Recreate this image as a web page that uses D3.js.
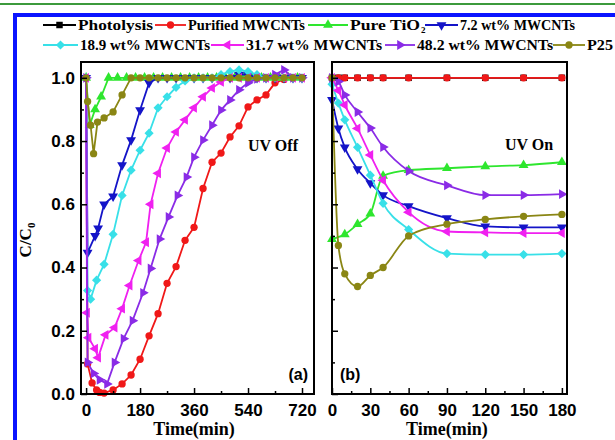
<!DOCTYPE html>
<html>
<head>
<meta charset="utf-8">
<script src="https://cdn.jsdelivr.net/npm/d3@7"></script>
<style>
  body { margin: 0; background: #fff; }
  svg { display: block; }
  .tick text { font-family: "Liberation Sans", Arial, sans-serif; font-weight: bold; font-size: 17px; fill: #000; }
  .tick line { stroke: #000; stroke-width: 1.5; }
  .serif { font-family: "Liberation Serif", "Times New Roman", serif; font-weight: bold; fill: #000; }
  .sans { font-family: "Liberation Sans", Arial, sans-serif; font-weight: bold; fill: #000; }
</style>
</head>
<body>
<svg id="chart" width="615" height="440"></svg>
<script>
// ---- data: [time (min), C/C0] ----
const seriesNames = ["Photolysis", "Purified MWCNTs", "Pure TiO", "7.2 wt% MWCNTs",
                     "18.9 wt% MWCNTs", "31.7 wt% MWCNTs", "48.2 wt% MWCNTs", "P25"];

// (a) UV off
const offPhotolysis = [];
const offPurified = [[0,1.0],[5,0.095],[20,0.035],[35,0.013],[45,0.005],[60,0.003],[90,0.013],
  [120,0.032],[150,0.06],[180,0.11],[210,0.184],[240,0.254],[270,0.35],[300,0.403],[330,0.486],
  [360,0.527],[390,0.65],[420,0.733],[450,0.762],[480,0.813],[510,0.848],[540,0.908],[570,0.93],
  [600,0.946],[630,0.984],[660,0.995],[690,1.0],[720,1.0]];
const offTiO2 = [[0,1.0],[12,0.85],[30,0.9],[50,0.94],[75,1.0],[105,1.0],[135,1.0],[165,1.0],
  [195,1.0],[225,1.0],[255,1.0],[285,1.0],[315,1.0],[345,1.0],[375,1.0],[405,1.0],[435,1.0],
  [465,1.0],[495,1.0],[525,1.0],[555,1.0],[585,1.0],[615,1.0],[645,1.0],[675,1.0],[705,1.0]];
const offMw72 = [[0,1.0],[5,0.447],[30,0.5],[40,0.524],[60,0.6],[90,0.625],[120,0.724],
  [150,0.803],[180,0.898],[210,0.984],[240,1.0],[270,1.0],[300,1.0],[330,1.0],[360,1.0],
  [390,1.0],[420,1.0],[450,1.0],[480,1.0],[510,1.01],[540,1.01],[570,1.0],[600,1.0],[630,1.0],
  [660,1.0],[690,1.0],[720,1.0]];
const offMw189 = [[0,1.0],[5,0.327],[15,0.3],[35,0.36],[60,0.41],[90,0.505],[120,0.628],
  [150,0.708],[180,0.771],[210,0.825],[240,0.905],[270,0.94],[300,0.97],[330,0.99],[360,1.0],
  [390,1.0],[420,1.0],[450,1.01],[480,1.02],[510,1.025],[540,1.02],[570,1.01],[600,1.0],
  [630,1.0],[660,1.0],[690,1.0],[720,1.0]];
const offMw317 = [[0,1.0],[3,0.257],[8,0.178],[30,0.143],[40,0.115],[65,0.187],[95,0.21],
  [120,0.27],[145,0.343],[175,0.422],[200,0.48],[215,0.6],[240,0.698],[270,0.778],[300,0.829],
  [330,0.867],[360,0.905],[390,0.94],[420,0.968],[450,0.987],[480,1.0],[510,1.0],[540,1.0],
  [570,1.0],[600,1.0],[630,1.0],[660,1.0],[690,1.0],[720,1.0]];
const offMw482 = [[0,1.0],[5,0.1],[25,0.065],[45,0.045],[70,0.032],[95,0.1],[125,0.175],
  [155,0.232],[190,0.32],[215,0.397],[245,0.49],[275,0.56],[305,0.628],[335,0.686],[360,0.749],
  [390,0.803],[420,0.85],[450,0.898],[480,0.93],[510,0.962],[540,0.984],[570,0.997],[600,1.0],
  [630,1.01],[660,1.025],[690,1.0],[720,1.0]];
const offP25 = [[0,1.0],[5,0.925],[15,0.85],[25,0.76],[38,0.86],[60,0.873],[90,0.892],
  [120,0.946],[150,1.0],[180,1.0],[210,1.0],[240,1.0],[270,1.0],[300,1.0],[330,1.0],[360,1.0],
  [390,1.0],[420,1.0],[450,1.0],[480,1.0],[510,1.0],[540,1.0],[570,1.0],[600,1.0],[630,1.0],
  [660,1.0],[690,1.0],[720,1.0]];

// (b) UV on
const onPhotolysis = [[0,1],[5,1],[10,1],[20,1],[30,1],[40,1],[60,1],[90,1],[120,1],[150,1],[180,1]];
const onPurified = [[0,1],[5,1],[10,1],[20,1],[30,1],[40,1],[60,1],[90,1],[120,1],[150,1],[180,1]];
const onTiO2 = [[0,0.49],[10,0.505],[20,0.537],[30,0.57],[40,0.69],[60,0.708],[90,0.714],
  [120,0.72],[150,0.724],[180,0.733]];
const onMw72 = [[0,0.93],[5,0.84],[10,0.78],[20,0.711],[30,0.667],[40,0.629],[60,0.594],
  [90,0.556],[120,0.53],[150,0.527],[180,0.527]];
const onMw189 = [[0,0.98],[5,0.92],[10,0.867],[20,0.78],[30,0.692],[40,0.603],[60,0.52],
  [90,0.444],[120,0.441],[150,0.441],[180,0.444]];
const onMw317 = [[0,1.0],[5,0.96],[10,0.914],[20,0.84],[30,0.756],[40,0.676],[60,0.575],
  [90,0.514],[120,0.511],[150,0.509],[180,0.509]];
const onMw482 = [[0,1.0],[5,0.988],[10,0.946],[20,0.892],[30,0.841],[40,0.781],[60,0.705],
  [90,0.66],[120,0.629],[150,0.629],[180,0.632]];
const onP25 = [[0,1.0],[5,0.47],[10,0.38],[20,0.34],[30,0.375],[40,0.4],[60,0.5],[90,0.537],
  [120,0.552],[150,0.562],[180,0.568]];

// tick values
const yMajor = [0, 0.2, 0.4, 0.6, 0.8, 1.0];
const yMinor = [0.1, 0.3, 0.5, 0.7, 0.9];
const xMajorA = [0, 180, 360, 540, 720];
const xMinorA = [90, 270, 450, 630];
const xMajorB = [0, 30, 60, 90, 120, 150, 180];
const xMinorB = [15, 45, 75, 105, 135, 165];

// ---- styles ----
const colors = ["#000000", "#f01818", "#2ee62e", "#1414c8", "#38e0e8", "#f020f0", "#8a2be6", "#8a8614"];
const shapes = [
  [d3.symbolSquare, 0], [d3.symbolCircle, 0], [d3.symbolTriangle, 0], [d3.symbolTriangle, 180],
  [d3.symbolSquare, 45], [d3.symbolTriangle, -90], [d3.symbolTriangle, 90], [d3.symbolCircle, 0]
];
const markerSize = 42;

const svg = d3.select("#chart");

// page decoration (green rule + blue frame)
svg.append("rect").attr("x", 0).attr("y", 3).attr("width", 615).attr("height", 2).attr("fill", "#3c9a3c");
svg.append("path").attr("d", "M15,440V15H615").attr("fill", "none")
  .attr("stroke", "#0a14ff").attr("stroke-width", 4);

const y = d3.scaleLinear().domain([0, 1.05]).range([394, 62]);
const xA = d3.scaleLinear().domain([-17, 760]).range([81, 314]);
const xB = d3.scaleLinear().domain([0, 184]).range([332, 567]);

function drawSeries(g, x, data, i, curve) {
  if (!data.length) return;
  const line = d3.line().x(d => x(d[0])).y(d => y(d[1])).curve(curve);
  g.append("path").datum(data).attr("d", line)
    .attr("fill", "none").attr("stroke", colors[i]).attr("stroke-width", 1.8);
  g.selectAll(null).data(data).join("path")
    .attr("d", d3.symbol().type(shapes[i][0]).size(markerSize))
    .attr("transform", d => `translate(${x(d[0])},${y(d[1])}) rotate(${shapes[i][1]})`)
    .attr("fill", colors[i]);
}

function drawPanel(x, seriesList, curve, xMajor, xMinor, yLabels) {
  const g = svg.append("g");
  seriesList.forEach((s, i) => drawSeries(g, x, s, i, curve));

  const [x0, x1] = x.range();
  // minor ticks
  g.append("g").attr("transform", `translate(0,${y(0)})`)
    .call(d3.axisBottom(x).tickValues(xMinor).tickSize(-3).tickFormat(""))
    .call(a => a.select(".domain").remove());
  g.append("g").attr("transform", `translate(${x0},0)`)
    .call(d3.axisLeft(y).tickValues(yMinor).tickSize(-3).tickFormat(""))
    .call(a => a.select(".domain").remove());
  // major ticks
  g.append("g").attr("transform", `translate(0,${y(0)})`)
    .call(d3.axisBottom(x).tickValues(xMajor).tickSizeInner(-6).tickSizeOuter(0).tickPadding(10))
    .call(a => a.select(".domain").remove());
  g.append("g").attr("transform", `translate(${x0},0)`)
    .call(d3.axisLeft(y).tickValues(yMajor).tickSizeInner(-6).tickSizeOuter(0).tickPadding(6)
      .tickFormat(yLabels ? d3.format(".1f") : ""))
    .call(a => a.select(".domain").remove());
  // frame
  g.append("rect").attr("x", x0).attr("y", y.range()[1])
    .attr("width", x1 - x0).attr("height", y(0) - y.range()[1])
    .attr("fill", "none").attr("stroke", "#000").attr("stroke-width", 2);

  g.append("text").attr("class", "serif").attr("x", (x(xMajor[0]) + x(xMajor[xMajor.length - 1])) / 2)
    .attr("y", 435).attr("text-anchor", "middle").attr("font-size", 18).text("Time(min)");
  return g;
}

const gA = drawPanel(xA, [offPhotolysis, offPurified, offTiO2, offMw72, offMw189, offMw317, offMw482, offP25],
  d3.curveLinear, xMajorA, xMinorA, true);
const gB = drawPanel(xB, [onPhotolysis, onPurified, onTiO2, onMw72, onMw189, onMw317, onMw482, onP25],
  d3.curveMonotoneX, xMajorB, xMinorB, false);

gA.append("text").attr("class", "serif").attr("x", 273).attr("y", 151)
  .attr("text-anchor", "middle").attr("font-size", 16).text("UV Off");
gB.append("text").attr("class", "serif").attr("x", 529).attr("y", 150)
  .attr("text-anchor", "middle").attr("font-size", 16).text("UV On");
gA.append("text").attr("class", "sans").attr("x", 308).attr("y", 380)
  .attr("text-anchor", "end").attr("font-size", 16).text("(a)");
gB.append("text").attr("class", "sans").attr("x", 340).attr("y", 380)
  .attr("font-size", 16).text("(b)");

// y axis title C/C0
const yt = svg.append("text").attr("class", "serif").attr("font-size", 17)
  .attr("transform", "translate(31,240) rotate(-90)").attr("text-anchor", "middle");
yt.append("tspan").text("C/C");
yt.append("tspan").attr("font-size", 11).attr("dy", 4).text("0");

// legend: [line start, text start, text width, baseline] per entry, two rows
const legendLayout = [
  [43, 78, 75, 30], [155, 188, 117, 30], [308, 350, 70, 30], [425, 460, 115, 30],
  [43, 80, 130, 50], [211, 246, 136, 50], [385, 417, 136, 50], [553, 587, 26, 50]
];
const legend = svg.append("g");
seriesNames.forEach((name, i) => {
  const [ls, ts, tw, by] = legendLayout[i];
  const ly = by - 5;
  legend.append("line").attr("x1", ls).attr("x2", ts - 2).attr("y1", ly).attr("y2", ly)
    .attr("stroke", colors[i]).attr("stroke-width", 1.8);
  legend.append("path").attr("d", d3.symbol().type(shapes[i][0]).size(markerSize))
    .attr("transform", `translate(${(ls + ts - 2) / 2},${ly}) rotate(${shapes[i][1]})`)
    .attr("fill", colors[i]);
  legend.append("text").attr("class", "serif").attr("x", ts).attr("y", by).attr("font-size", 14)
    .attr("textLength", tw).attr("lengthAdjust", "spacingAndGlyphs").text(name);
  if (i === 2) {
    legend.append("text").attr("class", "serif").attr("x", ts + tw + 1).attr("y", by + 3)
      .attr("font-size", 9).text("2");
  }
});
</script>
</body>
</html>
